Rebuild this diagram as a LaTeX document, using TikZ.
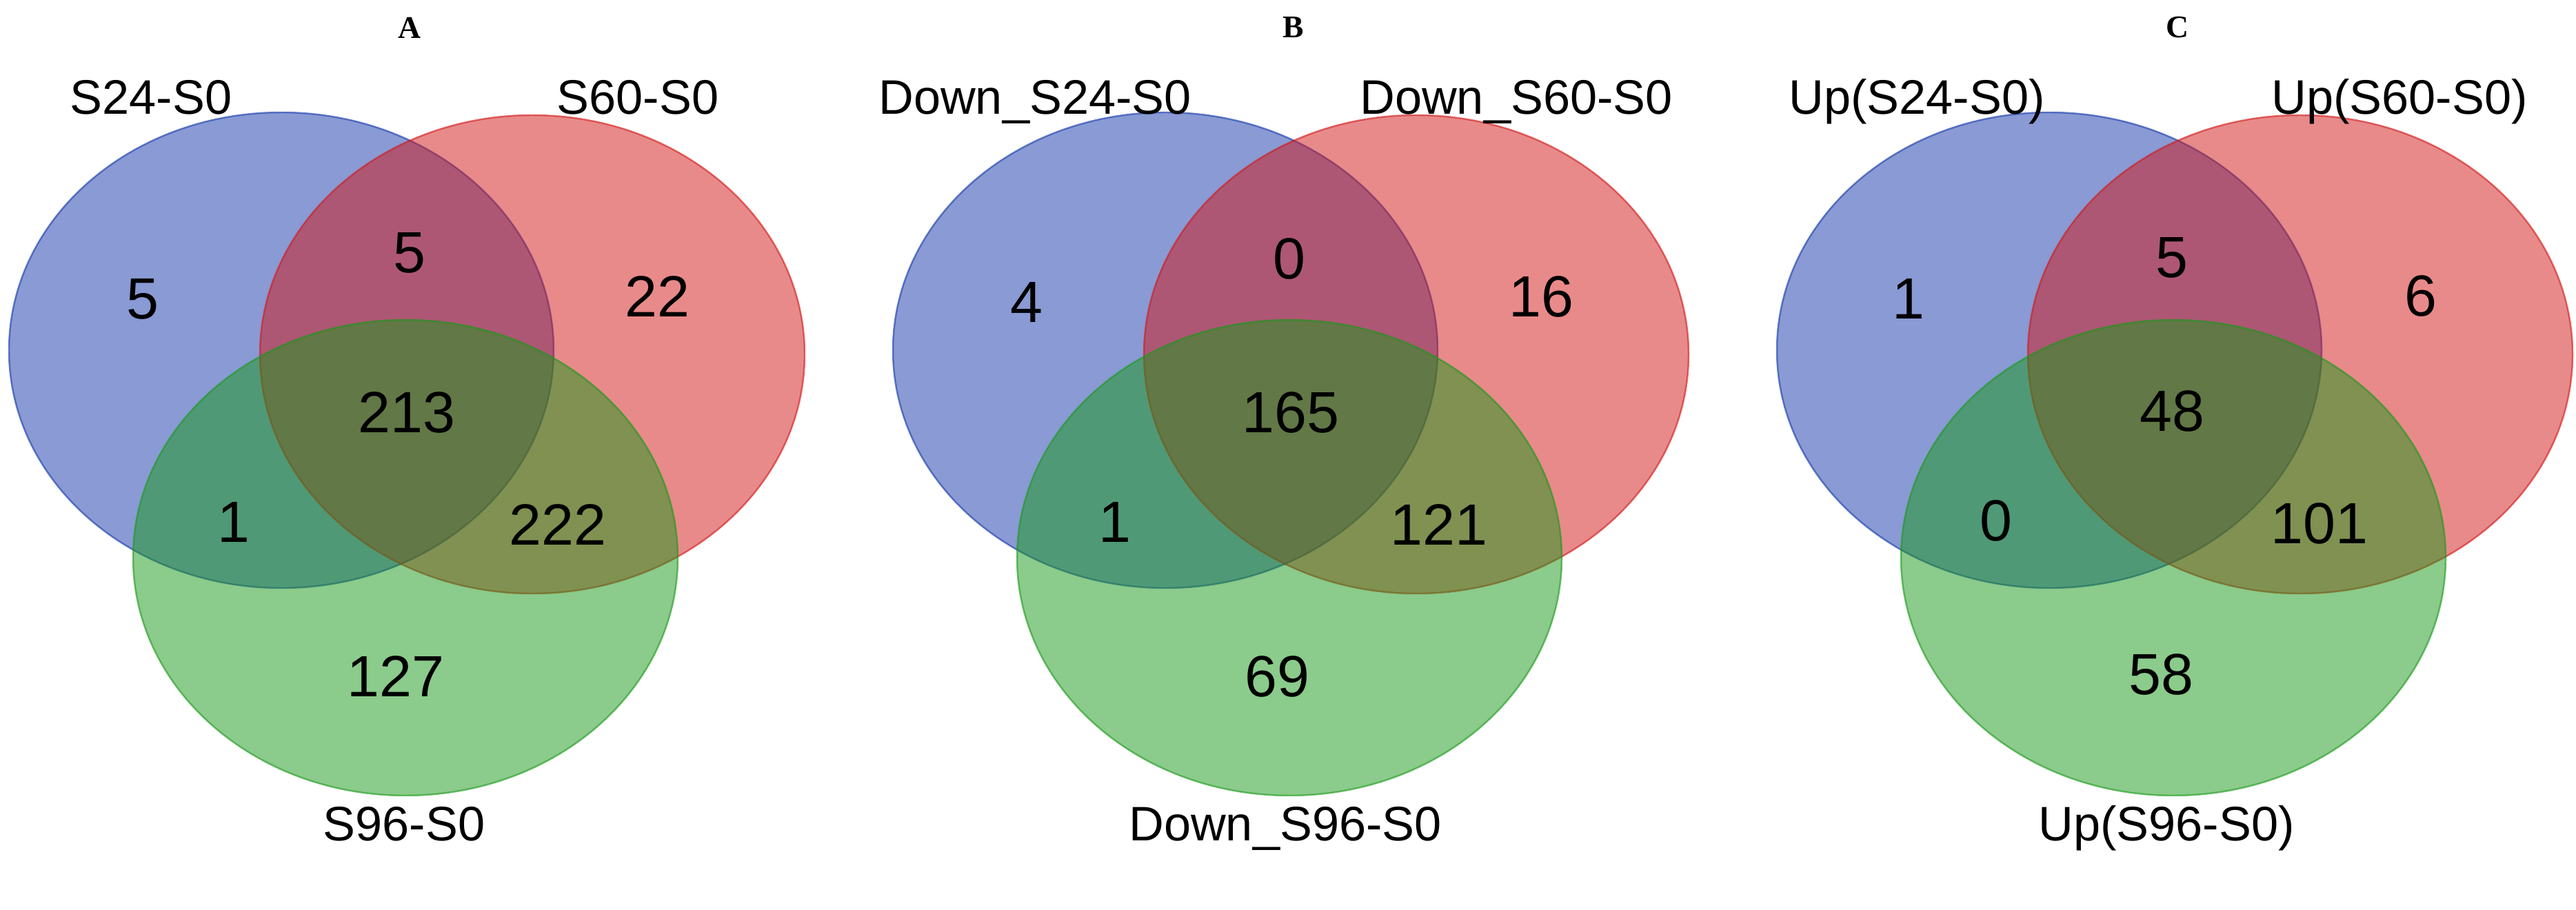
\documentclass[tikz,border=0pt]{standalone}
\usepackage{fontspec}
\setmainfont{Liberation Sans}
\newfontfamily\titlefont{Liberation Serif}

\definecolor{vennblue}{RGB}{20,55,170}
\definecolor{vennred}{RGB}{210,22,22}
\definecolor{venngreen}{RGB}{25,153,25}

\begin{document}
\begin{tikzpicture}[
  vset/.style={fill opacity=0.5, draw opacity=0.6, line width=0.7pt},
  region/.style={inner sep=0pt, font=\fontsize{24}{28}\selectfont},
  setlabel/.style={inner sep=0pt, anchor=base, font=\fontsize{20}{24}\selectfont},
  paneltitle/.style={inner sep=0pt, font=\titlefont\bfseries\fontsize{13}{15}\selectfont}
]

\useasboundingbox[fill=white] (0,0) rectangle (37.36,-13.19);

% Panel A
\begin{scope}
\draw[vset, fill=vennblue, draw=vennblue] (4.08,-5.08) ellipse (3.95 and 3.45);
\draw[vset, fill=vennred, draw=vennred] (7.72,-5.14) ellipse (3.95 and 3.47);
\draw[vset, fill=venngreen, draw=venngreen] (5.88,-8.09) ellipse (3.95 and 3.45);

\node[paneltitle] (tA) at (5.94,-0.40) {A};
\node[setlabel] (lA1) at (2.19,-1.65) {S24-S0};
\node[setlabel] (lA2) at (9.25,-1.65) {S60-S0};
\node[setlabel] (lA3) at (5.86,-12.19) {S96-S0};

\node[region] (nA1) at (2.07,-4.34) {5};
\node[region] (nA12) at (5.94,-3.67) {5};
\node[region] (nA2) at (9.53,-4.30) {22};
\node[region] (nA123) at (5.90,-5.98) {213};
\node[region] (nA13) at (3.39,-7.57) {1};
\node[region] (nA23) at (8.09,-7.61) {222};
\node[region] (nA3) at (5.74,-9.81) {127};
\end{scope}

% Panel B
\begin{scope}[xshift=12.82cm]
\draw[vset, fill=vennblue, draw=vennblue] (4.08,-5.08) ellipse (3.95 and 3.45);
\draw[vset, fill=vennred, draw=vennred] (7.72,-5.14) ellipse (3.95 and 3.47);
\draw[vset, fill=venngreen, draw=venngreen] (5.88,-8.09) ellipse (3.95 and 3.45);

\node[paneltitle] (tB) at (5.94,-0.40) {B};
\node[setlabel] (lB1) at (2.19,-1.65) {Down\_S24-S0};
\node[setlabel] (lB2) at (9.17,-1.65) {Down\_S60-S0};
\node[setlabel] (lB3) at (5.82,-12.19) {Down\_S96-S0};

\node[region] (nB1) at (2.07,-4.38) {4};
\node[region] (nB12) at (5.88,-3.75) {0};
\node[region] (nB2) at (9.53,-4.30) {16};
\node[region] (nB123) at (5.90,-5.98) {165};
\node[region] (nB13) at (3.35,-7.57) {1};
\node[region] (nB23) at (8.05,-7.61) {121};
\node[region] (nB3) at (5.70,-9.81) {69};
\end{scope}

% Panel C
\begin{scope}[xshift=25.64cm]
\draw[vset, fill=vennblue, draw=vennblue] (4.08,-5.08) ellipse (3.95 and 3.45);
\draw[vset, fill=vennred, draw=vennred] (7.72,-5.14) ellipse (3.95 and 3.47);
\draw[vset, fill=venngreen, draw=venngreen] (5.88,-8.09) ellipse (3.95 and 3.45);

\node[paneltitle] (tC) at (5.94,-0.40) {C};
\node[setlabel] (lC1) at (2.16,-1.65) {Up(S24-S0)};
\node[setlabel] (lC2) at (9.16,-1.65) {Up(S60-S0)};
\node[setlabel] (lC3) at (5.78,-12.19) {Up(S96-S0)};

\node[region] (nC1) at (2.04,-4.33) {1};
\node[region] (nC12) at (5.86,-3.74) {5};
\node[region] (nC2) at (9.47,-4.29) {6};
\node[region] (nC123) at (5.86,-5.96) {48};
\node[region] (nC13) at (3.31,-7.55) {0};
\node[region] (nC23) at (8.00,-7.59) {101};
\node[region] (nC3) at (5.70,-9.78) {58};
\end{scope}

\end{tikzpicture}
\end{document}
